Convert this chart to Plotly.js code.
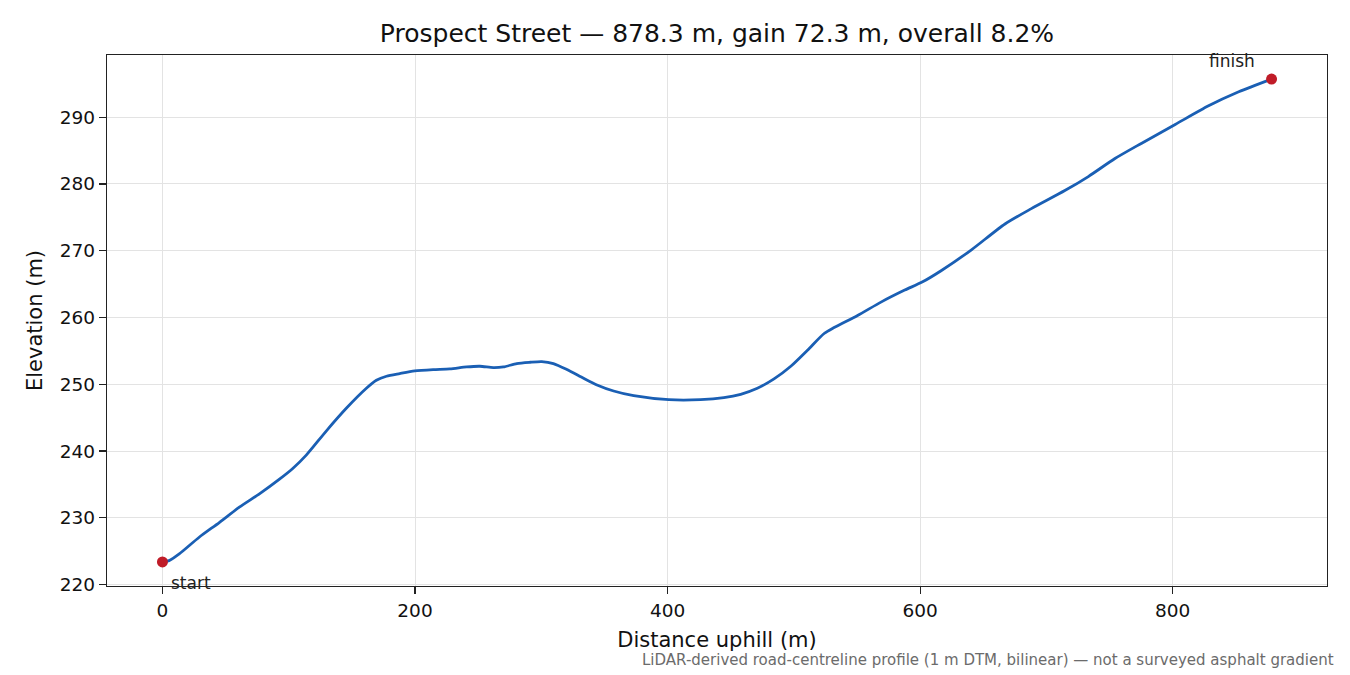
<!DOCTYPE html>
<html>
<head>
<meta charset="utf-8">
<script src="https://cdn.plot.ly/plotly-3.0.1.min.js"></script>
<style>html,body{margin:0;padding:0;background:#fff;}#chart{width:1350px;height:675px;}</style>
</head>
<body>
<div id="chart"></div>
<script>
const distance = [0, 5.3, 13.3, 29.1, 45.0, 60.9, 76.8, 92.7, 103.2, 113.9, 129.7, 145.6, 161.5, 169.4, 177.4, 187.9, 199.8, 214.4, 227.6, 240.9, 251.4, 262.0, 270.0, 280.6, 291.1, 300.4, 309.6, 320.3, 333.5, 344.1, 357.3, 373.2, 401.0, 426.1, 444.6, 457.9, 471.1, 484.3, 497.6, 510.8, 524.0, 531.9, 550.5, 569.0, 587.8, 601.6, 616.6, 640.4, 667.2, 688.1, 714.6, 733.2, 754.3, 775.5, 802.0, 828.4, 852.3, 878.3];
const elevation = [223.4, 223.6, 224.6, 227.1, 229.3, 231.6, 233.6, 235.8, 237.4, 239.4, 243.0, 246.4, 249.4, 250.6, 251.2, 251.6, 252.0, 252.2, 252.3, 252.6, 252.7, 252.5, 252.6, 253.1, 253.3, 253.4, 253.1, 252.2, 250.9, 249.9, 249.0, 248.3, 247.7, 247.7, 248.0, 248.5, 249.4, 250.8, 252.7, 255.1, 257.6, 258.5, 260.3, 262.3, 264.1, 265.3, 267.0, 270.1, 274.0, 276.3, 279.0, 281.1, 283.8, 286.1, 288.9, 291.7, 293.8, 295.7];
const endpointLabels = ["start", "finish"];
const xTicks = [0, 200, 400, 600, 800];
const yTicks = [220, 230, 240, 250, 260, 270, 280, 290];
const titleText = "Prospect Street — 878.3 m, gain 72.3 m, overall 8.2%";
const xLabel = "Distance uphill (m)";
const yLabel = "Elevation (m)";
const footnote = "LiDAR-derived road-centreline profile (1 m DTM, bilinear) — not a surveyed asphalt gradient";

const n = distance.length;
const endX = [distance[0], distance[n-1]];
const endY = [elevation[0], elevation[n-1]];

const font = "DejaVu Sans, sans-serif";
const traces = [
  {x: distance, y: elevation, type: 'scatter', mode: 'lines',
   line: {color: '#1a5fb4', width: 2.8, shape: 'spline', smoothing: 0.7}, hoverinfo: 'skip'},
  {x: endX, y: endY, type: 'scatter', mode: 'markers',
   marker: {color: '#c01c28', size: 11}, hoverinfo: 'skip'}
];

const axisCommon = {
  showline: true, mirror: true, linecolor: '#222', linewidth: 1.3,
  ticks: 'outside', ticklen: 7, tickwidth: 1.2, tickcolor: '#222',
  showgrid: true, gridcolor: '#e3e3e3', gridwidth: 1,
  zeroline: false, tickfont: {family: font, size: 18.5, color: '#111'}
};

const layout = {
  width: 1350, height: 675,
  margin: {l: 107, r: 23, t: 55, b: 89},
  paper_bgcolor: '#fff', plot_bgcolor: '#fff',
  showlegend: false,
  font: {family: font, color: '#111'},
  title: {text: titleText, font: {family: font, size: 25, color: '#111'},
          x: 0.5, xanchor: 'center', xref: 'paper', y: 1 - 33/675, yanchor: 'middle', yref: 'container'},
  xaxis: Object.assign({}, axisCommon, {
    range: [-43.9, 922.2], tickvals: xTicks, ticktext: xTicks.map(String),
    title: {text: xLabel, font: {family: font, size: 21, color: '#111'}, standoff: 12}
  }),
  yaxis: Object.assign({}, axisCommon, {
    range: [219.8, 299.3], tickvals: yTicks, ticktext: yTicks.map(String),
    title: {text: yLabel, font: {family: font, size: 21, color: '#111'}, standoff: 11}
  }),
  annotations: [
    {x: endX[0], y: endY[0], xref: 'x', yref: 'y', text: endpointLabels[0], showarrow: true,
     arrowcolor: 'rgba(0,0,0,0)', ax: 7, ay: 21, xanchor: 'left', yanchor: 'middle',
     font: {family: font, size: 17, color: '#222'}},
    {x: endX[1], y: endY[1], xref: 'x', yref: 'y', text: endpointLabels[1], showarrow: true,
     arrowcolor: 'rgba(0,0,0,0)', ax: -15, ay: -18, xanchor: 'right', yanchor: 'middle',
     font: {family: font, size: 17, color: '#222'}},
    {x: 0, y: 0, xref: 'paper', yref: 'paper', text: footnote, showarrow: false,
     xanchor: 'right', yanchor: 'middle', font: {family: font, size: 15, color: '#6b6b6b'}}
  ]
};
// footnote in paper coords relative to plot area
layout.annotations[2].x = (1336 - 107) / (1350 - 107 - 23);
layout.annotations[2].y = -(660 - 586) / (586 - 55);

Plotly.newPlot('chart', traces, layout, {staticPlot: true, displayModeBar: false});
</script>
</body>
</html>
